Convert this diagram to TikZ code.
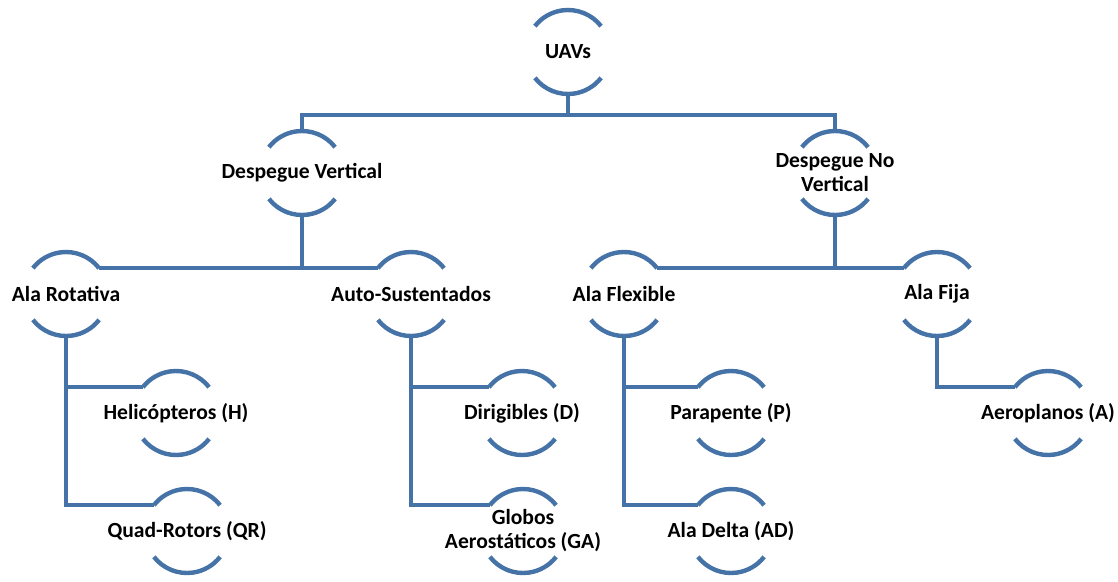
\documentclass[tikz,border=0pt]{standalone}
\usepackage{fontspec}
\setmainfont{Carlito}
\usetikzlibrary{arrows, arrows.meta}
\definecolor{azul}{RGB}{69,114,167}

\newcommand{\arcos}[1]{
  \draw[arco] (#1.38) arc[start angle=38, end angle=142, radius=42pt];
  \draw[arco] (#1.218) arc[start angle=218, end angle=322, radius=42pt];
}

\begin{document}
\begin{tikzpicture}[x=1pt, y=-1pt,
  arco/.style={draw=azul, line width=4.4pt},
  rama/.style={draw=azul, line width=4.4pt},
  etiq/.style={font=\fontsize{21.6}{24}\selectfont\bfseries, align=center, inner sep=0pt},
  hoja/.style={circle, minimum size=84pt, inner sep=0pt, outer sep=0pt, label={[etiq]center:#1}}]
\useasboundingbox (0,0) rectangle (1118,581);
\node[hoja={UAVs}] (uav) at (568,52) {};
\node[hoja={Despegue Vertical}] (dv) at (302,173) {};
\node[hoja={Despegue No\\Vertical}] (dnv) at (835,173) {};
\node[hoja={Ala Rotativa}] (ar) at (66,294) {};
\node[hoja={Auto-Sustentados}] (as) at (411,294) {};
\node[hoja={Ala Flexible}] (af) at (624,294) {};
\node[hoja={Ala Fija}] (fi) at (937,294) {};
\node[hoja={Helicópteros (H)}] (he) at (176,413) {};
\node[hoja={Quad-Rotors (QR)}] (qr) at (187,531) {};
\node[hoja={Dirigibles (D)}] (di) at (522,413) {};
\node[hoja={Globos\\Aerostáticos (GA)}] (ga) at (523,531) {};
\node[hoja={Parapente (P)}] (pa) at (731,413) {};
\node[hoja={Ala Delta (AD)}] (ad) at (731,531) {};
\node[hoja={Aeroplanos (A)}] (ae) at (1048,413) {};
\foreach \n in {uav,dv,dnv,ar,as,af,fi,he,qr,di,ga,pa,ad,ae}
  \arcos{\n};
% ramas
\draw[rama] (uav.south) -- ++(0,21) coordinate (b0);
\draw[rama] (dv.north) |- (b0) -| (dnv.north);
\draw[rama] (ar.38) -- (as.142);
\draw[rama] (dv.south) -- (dv.south |- ar.38);
\draw[rama] (af.38) -- (fi.142);
\draw[rama] (dnv.south) -- (dnv.south |- af.38);
\draw[rama] (ar.south) |- (qr.142);
\draw[rama] (ar.south |- he.142) -- (he.142);
\draw[rama] (as.south) |- (ga.142);
\draw[rama] (as.south |- di.142) -- (di.142);
\draw[rama] (af.south) |- (ad.142);
\draw[rama] (af.south |- pa.142) -- (pa.142);
\draw[rama] (fi.south) |- (ae.142);
\end{tikzpicture}
\end{document}
